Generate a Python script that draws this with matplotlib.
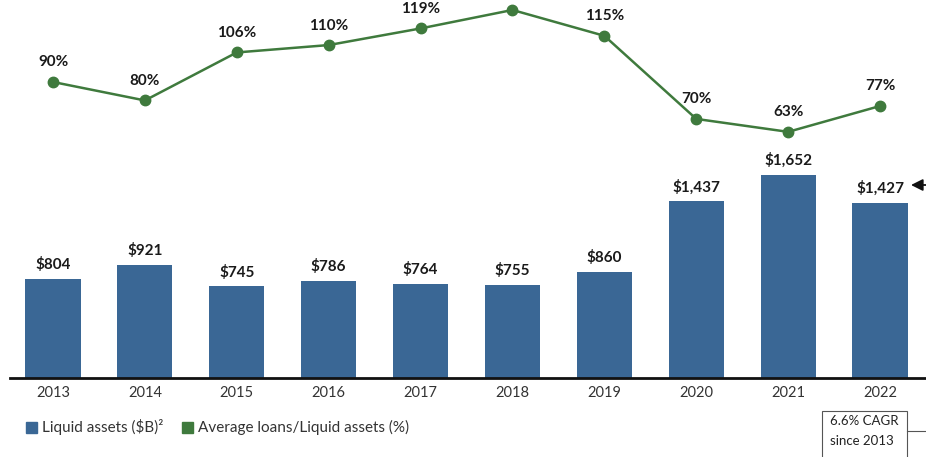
import numpy as np
import matplotlib.pyplot as plt
from matplotlib.patches import Rectangle

# Data
years = ['2013', '2014', '2015', '2016', '2017', '2018', '2019', '2020', '2021', '2022']
liquid_assets = [804, 921, 745, 786, 764, 755, 860, 1437, 1652, 1427]
loan_ratio = [90, 80, 106, 110, 119, 129, 115, 70, 63, 77]
# the 2018 ratio label sits above the crop in the original, so it is not drawn
show_ratio_label = [True, True, True, True, True, False, True, True, True, True]

bar_color = '#3a6795'
line_color = '#3f7a3d'

plt.rcParams['font.family'] = ['Lato', 'DejaVu Sans']

W, H = 926, 457
fig = plt.figure(figsize=(W / 100, H / 100), dpi=100)

# bar axes: baseline at y=378 px, left edge at x=10 px
ax = fig.add_axes([10 / W, (H - 378) / H, 916 / W, 378 / H])
x = np.arange(len(years))
ax.bar(x, liquid_assets, width=0.6, color=bar_color, zorder=2)
ax.set_xlim(-0.468, 9.5)
ax.set_ylim(0, 3076)
for xi, v in zip(x, liquid_assets):
    ax.annotate('${:,}'.format(v), (xi, v), xytext=(0, 5), textcoords='offset points',
                ha='center', va='bottom', fontsize=11, fontweight='bold', color='#1a1a1a')

for s in ['top', 'right', 'left']:
    ax.spines[s].set_visible(False)
ax.spines['bottom'].set_linewidth(2)
ax.spines['bottom'].set_color('#111111')
ax.set_yticks([])
ax.set_xticks(x)
ax.set_xticklabels(years, fontsize=10.5, color='#333333')
ax.tick_params(axis='x', length=0, pad=6)

# line on its own scale
ax2 = ax.twinx()
ax2.set_ylim(-70.3, 134.4)
ax2.plot(x, loan_ratio, color=line_color, lw=1.8, marker='o', markersize=7.5, zorder=3)
for xi, v, show in zip(x, loan_ratio, show_ratio_label):
    if show:
        ax2.annotate('{}%'.format(v), (xi, v), xytext=(0, 9), textcoords='offset points',
                     ha='center', va='bottom', fontsize=11, fontweight='bold', color='#1a1a1a')
ax2.axis('off')

# legend
fig.patches.append(Rectangle((26 / W, (H - 433) / H), 11 / W, 11 / H,
                             transform=fig.transFigure, color=bar_color))
fig.text(42 / W, (H - 427) / H, 'Liquid assets ($B)\u00b2', fontsize=11, color='#333333',
         va='center')
fig.patches.append(Rectangle((182 / W, (H - 433) / H), 11 / W, 11 / H,
                             transform=fig.transFigure, color=line_color))
fig.text(198 / W, (H - 427) / H, 'Average loans/Liquid assets (%)', fontsize=11,
         color='#333333', va='center')

# CAGR callout
fig.patches.append(Rectangle((822 / W, -0.05), 85 / W, (H - 411) / H + 0.05,
                             transform=fig.transFigure, facecolor='white',
                             edgecolor='#555555', lw=0.8))
fig.text(830 / W, (H - 421) / H, '6.6% CAGR', fontsize=9.5, color='#222222', va='center')
fig.text(830 / W, (H - 441) / H, 'since 2013', fontsize=9.5, color='#222222', va='center')
fig.add_artist(plt.Line2D([907 / W, 1.0], [(H - 431) / H] * 2, color='#555555', lw=0.8))

# arrow at the 2022 label
ax.annotate('', xy=(911 / W, (H - 185) / H), xytext=(1.0, (H - 185) / H),
            xycoords='figure fraction', textcoords='figure fraction',
            arrowprops=dict(arrowstyle='-|>,head_length=0.7,head_width=0.35',
                            color='#111111', lw=1.3, mutation_scale=10,
                            shrinkA=0, shrinkB=0))

fig.savefig('out.png', dpi=100)
